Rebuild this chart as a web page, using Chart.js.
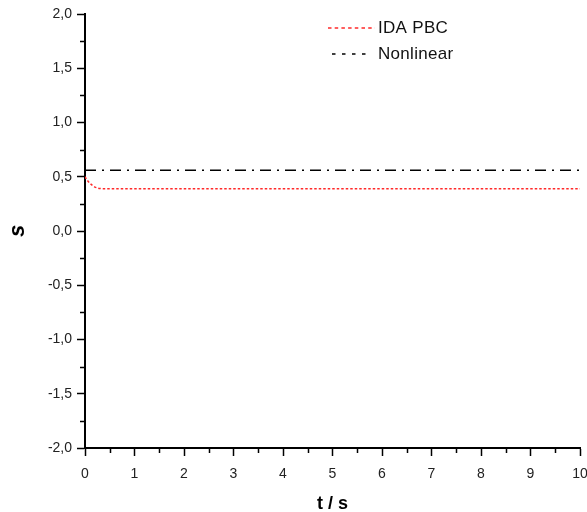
<!DOCTYPE html>
<html>
<head>
<meta charset="utf-8">
<script src="https://cdn.jsdelivr.net/npm/chart.js@4"></script>
<style>
  html, body { margin: 0; padding: 0; background: #fff; }
  #wrap { width: 587px; height: 512px; }
</style>
</head>
<body>
<div id="wrap"><canvas id="chart" width="587" height="512"></canvas></div>
<script>
// data
const idaTime = [0, 0.05, 0.1, 0.15, 0.2, 0.25, 0.3, 0.4, 0.6, 1, 2, 3, 4, 5, 6, 7, 8, 9, 10];
const idaValues = [0.50, 0.465, 0.44, 0.42, 0.405, 0.397, 0.392, 0.39, 0.39, 0.39, 0.39, 0.39, 0.39, 0.39, 0.39, 0.39, 0.39, 0.39, 0.39];
const nonlinTime = [0, 10];
const nonlinValues = [0.56, 0.56];
const xTicksMinor = [0.5, 1.5, 2.5, 3.5, 4.5, 5.5, 6.5, 7.5, 8.5, 9.5];
const yTicksMinor = [-1.75, -1.25, -0.75, -0.25, 0.25, 0.75, 1.25, 1.75];

const toPoints = (xs, ys) => xs.map((x, i) => ({ x: x, y: ys[i] }));

// small outward minor ticks
const minorTicks = {
  id: "minorTicks",
  afterDraw(chart) {
    const ctx = chart.ctx;
    const xs = chart.scales.x, ys = chart.scales.y;
    const area = chart.chartArea;
    ctx.save();
    ctx.strokeStyle = "#000";
    ctx.lineWidth = 1.5;
    ctx.beginPath();
    for (let v of xTicksMinor) {
      const px = Math.round(xs.getPixelForValue(v)) + 0.5;
      ctx.moveTo(px, area.bottom);
      ctx.lineTo(px, area.bottom + 5);
    }
    for (let v of yTicksMinor) {
      const py = Math.round(ys.getPixelForValue(v)) + 0.5;
      ctx.moveTo(area.left - 5, py);
      ctx.lineTo(area.left, py);
    }
    ctx.stroke();
    ctx.restore();
  }
};

// legend in the top right, as in the picture
const legendLines = [
  { x0: 328, x1: 375, y: 28, dash: [3.5, 3.2] },
  { x0: 332, x1: 369, y: 54, dash: [3.5, 6.5] }
];
const sideLegend = {
  id: "sideLegend",
  afterDraw(chart) {
    const ctx = chart.ctx;
    ctx.save();
    chart.data.datasets.forEach((ds, i) => {
      const l = legendLines[i];
      ctx.strokeStyle = ds.borderColor;
      ctx.lineWidth = 1.5;
      ctx.setLineDash(l.dash);
      ctx.beginPath();
      ctx.moveTo(l.x0, l.y);
      ctx.lineTo(l.x1, l.y);
      ctx.stroke();
      ctx.setLineDash([]);
      ctx.fillStyle = "#111";
      ctx.font = "17px 'Liberation Sans', Arial, sans-serif";
      ctx.letterSpacing = "0.3px";
      ctx.textBaseline = "middle";
      ctx.fillText(ds.label, 378, l.y);
    });
    ctx.restore();
  }
};

const ctx = document.getElementById("chart").getContext("2d");
const chart = new Chart(ctx, {
  type: "line",
  data: {
    datasets: [
      {
        label: "IDA PBC",
        data: toPoints(idaTime, idaValues),
        borderColor: "#ff2a2a",
        borderWidth: 1.5,
        borderDash: [2.5, 2],
        pointRadius: 0,
        cubicInterpolationMode: "monotone",
        fill: false
      },
      {
        label: "Nonlinear",
        data: toPoints(nonlinTime, nonlinValues),
        borderColor: "#000000",
        borderWidth: 1.5,
        borderDash: [11, 6, 2, 6],
        pointRadius: 0,
        fill: false
      }
    ]
  },
  options: {
    responsive: false,
    animation: false,
    layout: { padding: { top: 14, right: 0, left: 0, bottom: 0 } },
    plugins: {
      legend: { display: false },
      tooltip: { enabled: false }
    },
    scales: {
      x: {
        type: "linear",
        min: 0,
        max: 10,
        afterFit(scale) {
          scale.height = 64;
          scale.paddingLeft = 0;
          scale.paddingRight = 7;
        },
        border: { color: "#000", width: 2 },
        grid: { drawOnChartArea: false, tickLength: 8, tickColor: "#000", tickWidth: 1.5 },
        ticks: {
          stepSize: 1,
          padding: 10,
          color: "#222",
          font: { family: "'Liberation Sans', Arial, sans-serif", size: 14 },
          maxRotation: 0
        },
        title: {
          display: true,
          text: "t / s",
          color: "#000",
          font: { family: "'Liberation Sans', Arial, sans-serif", size: 18, weight: "bold" },
          padding: { top: 11, bottom: -3 }
        }
      },
      y: {
        min: -2,
        max: 2,
        afterFit(scale) { scale.width = 85; },
        border: { color: "#000", width: 2 },
        grid: { drawOnChartArea: false, tickLength: 8, tickColor: "#000", tickWidth: 1.5 },
        ticks: {
          stepSize: 0.5,
          padding: 5,
          color: "#222",
          font: { family: "'Liberation Sans', Arial, sans-serif", size: 14 },
          callback: (v) => v.toFixed(1).replace(".", ",")
        },
        title: {
          display: true,
          text: "s",
          color: "#000",
          font: { family: "'Liberation Sans', Arial, sans-serif", size: 22, weight: "bold", style: "italic" },
          padding: { top: 5, bottom: 0 }
        }
      }
    }
  },
  plugins: [minorTicks, sideLegend]
});
</script>
</body>
</html>
